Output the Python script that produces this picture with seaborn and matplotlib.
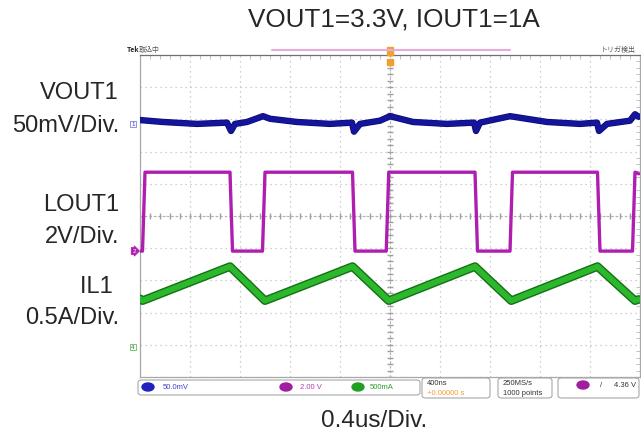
import numpy as np
import pandas as pd
import seaborn as sns
import matplotlib.pyplot as plt
import matplotlib.patheffects as pe
from matplotlib.patches import FancyBboxPatch, Ellipse, Rectangle
from matplotlib.lines import Line2D
from matplotlib.ticker import MultipleLocator

# scope capture, 0.4us/div over 10 div (time in us)
# CH1 VOUT1 ripple (mV), 50mV/div
t_vout = [0, 0.184, 0.456, 0.696, 0.728, 0.76, 0.856, 0.984, 1.04, 1.256, 1.52, 1.696, 1.712, 1.76,
          1.92, 2.0, 2.184, 2.456, 2.672, 2.688, 2.72, 2.96, 3.256, 3.52, 3.656, 3.672, 3.736,
          3.92, 3.96, 3.99]
vout_mv = [6, 3, 0, 2, -11, 0, 3, 12, 8, 3, 0, 2, -12, 0,
           5, 12, 3, 0, 2, -11, 2, 12, 3, 0, 2, -11, 0,
           5, 15, 11]
# CH2 LOUT1 switch node (V), 2V/div
t_lx = [0, 0.02, 0.04, 0.72, 0.74, 0.98, 1.0, 1.70, 1.72, 1.97, 1.99, 2.68, 2.70, 2.96, 2.98,
        3.66, 3.68, 3.94, 3.96, 3.99]
v_lx = [0, 0, 4.9, 4.9, 0, 0, 4.9, 4.9, 0, 0, 4.9, 4.9, 0, 0, 4.9,
        4.9, 0, 0, 4.9, 4.8]
# CH4 IL1 inductor current (A), 0.5A/div
t_il = [0, 0.02, 0.72, 1.0, 1.70, 1.99, 2.68, 2.97, 3.66, 3.96, 3.99]
il_a = [0.75, 0.72, 1.25, 0.72, 1.25, 0.72, 1.25, 0.72, 1.25, 0.72, 0.74]

# channel offsets (div) and scales
off_vout, sc_vout = 2.86, 50.0
off_lx, sc_lx = -1.09, 2.0
off_il, sc_il = -4.07, 0.5

title = 'VOUT1=3.3V, IOUT1=1A'
labels = [('VOUT1', 93), ('50mV/Div.', 126), ('LOUT1', 205), ('2V/Div.', 237),
          ('IL1 ', 287), ('0.5A/Div.', 318)]
xlabel = '0.4us/Div.'

W, H = 641, 439
sns.set_style('white')
plt.rcParams['font.family'] = ['Liberation Sans', 'DejaVu Sans']

fig = plt.figure(figsize=(W / 100, H / 100), dpi=100)


def px(x, y):
    return x / W, 1 - y / H


ax = fig.add_axes([140 / W, 1 - 378 / H, 500 / W, 322 / H])

df_v = pd.DataFrame({'t': t_vout, 'pos': off_vout + np.array(vout_mv) / sc_vout})
df_l = pd.DataFrame({'t': t_lx, 'pos': off_lx + np.array(v_lx) / sc_lx})
df_i = pd.DataFrame({'t': t_il, 'pos': off_il + np.array(il_a) / sc_il})

sns.lineplot(data=df_v, x='t', y='pos', ax=ax, color='#14149c', linewidth=3.6, sort=False,
             estimator=None, path_effects=[pe.Stroke(linewidth=4.6, foreground='#0a0a70'), pe.Normal()],
             zorder=5)
sns.lineplot(data=df_l, x='t', y='pos', ax=ax, color='#b01eb0', linewidth=2.4, sort=False,
             estimator=None, zorder=5)
sns.lineplot(data=df_i, x='t', y='pos', ax=ax, color='#2cb82c', linewidth=4.2, sort=False,
             estimator=None, path_effects=[pe.Stroke(linewidth=6.2, foreground='#147014'), pe.Normal()],
             zorder=5)

ax.set_xlim(0, 4)
ax.set_ylim(-5, 5)
ax.set_xticks(np.arange(0, 4.01, 0.4))
ax.set_yticks(np.arange(-5, 6, 1))
ax.grid(True, color='#c0c0c0', linestyle=(0, (1, 3)), linewidth=0.9)
ax.set_xticklabels([])
ax.set_yticklabels([])
ax.set_xlabel('')
ax.set_ylabel('')
ax.tick_params(which='major', length=0)
ax.xaxis.set_minor_locator(MultipleLocator(0.08))
ax.yaxis.set_minor_locator(MultipleLocator(0.2))
ax.tick_params(which='minor', direction='in', length=3, color='#b8b8b8', top=True, right=True)
for s in ax.spines.values():
    s.set_color('#a8a8a8')
    s.set_linewidth(0.9)
ax.spines['top'].set_color('#707070')

# centre cross lines with fine ticks
ax.axvline(2.0, color='#b0b0b0', linestyle=(0, (2, 2)), linewidth=0.8, zorder=1)
ax.axhline(0.0, color='#b0b0b0', linestyle=(0, (2, 2)), linewidth=0.8, zorder=1)
ax.plot(np.arange(0, 4.01, 0.08), np.zeros(51), '|', color='#a0a0a0', markersize=4, zorder=1)
ax.plot(np.full(51, 2.0), np.arange(-5, 5.01, 0.2), '_', color='#a0a0a0', markersize=4, zorder=1)

# texts
fig.text(*px(394, 20), title, ha='center', va='center', fontsize=18.8)
for txt, y in labels:
    fig.text(*px(119, y), txt, ha='right', va='center', fontsize=17)
fig.text(*px(374, 421), xlabel, ha='center', va='center', fontsize=17.5)

# scope header
cjk = ['Noto Sans CJK JP', 'DejaVu Sans']
fig.text(*px(127, 50), 'Tek', fontsize=5, fontweight='bold', va='center', family=cjk)
fig.text(*px(139, 50), '取込中', fontsize=5, va='center', color='#555555', family=cjk)
fig.text(*px(636, 50), 'トリガ検出', fontsize=5, va='center', ha='right', color='#555555', family=cjk)
fig.add_artist(Line2D([272 / W, 510 / W], [1 - 51 / H] * 2, color='#e8a8e0', linewidth=1.5))
fig.add_artist(Rectangle(px(387, 56), 6 / W, 8 / H, color='#f0a030'))
fig.add_artist(Rectangle(px(387, 66), 6 / W, 6 / H, color='#f0a030'))

# ground markers
fig.text(*px(133, 125), '1', fontsize=4.5, color='#3030c0', ha='center', va='center',
         bbox=dict(boxstyle='square,pad=0.15', fc='white', ec='#8080e0', lw=0.6))
fig.text(*px(134, 252), '2', fontsize=4.5, color='white', ha='center', va='center',
         bbox=dict(boxstyle='rarrow,pad=0.15', fc='#b01eb0', ec='#b01eb0', lw=0.6))
fig.text(*px(133, 348), '4', fontsize=4.5, color='#208020', ha='center', va='center',
         bbox=dict(boxstyle='square,pad=0.15', fc='white', ec='#60c060', lw=0.6))

# status bar
def box(x0, y0, x1, y1):
    fig.add_artist(FancyBboxPatch(px(x0, y1), (x1 - x0) / W, (y1 - y0) / H,
                                  boxstyle='round,pad=0,rounding_size=0.006',
                                  fc='white', ec='#a8a8a8', lw=0.8))


def oval(x, y, c):
    fig.add_artist(Ellipse(px(x, y), 12 / W, 8 / H, color=c))


box(138, 381, 420, 396)
box(422, 379, 490, 399)
box(498, 379, 552, 399)
box(558, 379, 639, 399)
oval(148, 388, '#2020c0')
oval(286, 388, '#a01ea0')
oval(358, 388, '#20a020')
oval(583, 386, '#a01ea0')
fig.text(*px(163, 388), '50.0mV', fontsize=5.5, color='#4040d0', va='center')
fig.text(*px(300, 388), '2.00 V', fontsize=5.5, color='#b040b0', va='center')
fig.text(*px(370, 388), '500mA', fontsize=5.5, color='#30a030', va='center')
fig.text(*px(427, 384), '400ns', fontsize=5.5, color='#333333', va='center')
fig.text(*px(427, 394), '+0.00000 s', fontsize=5.5, color='#f0a030', va='center')
fig.text(*px(503, 384), '250MS/s', fontsize=5.5, color='#333333', va='center')
fig.text(*px(503, 394), '1000 points', fontsize=5.5, color='#333333', va='center')
fig.text(*px(600, 386), '/', fontsize=5.5, color='#333333', va='center')
fig.text(*px(636, 386), '4.36 V', fontsize=5.5, color='#333333', va='center', ha='right')

fig.savefig('out.png', dpi=100)
